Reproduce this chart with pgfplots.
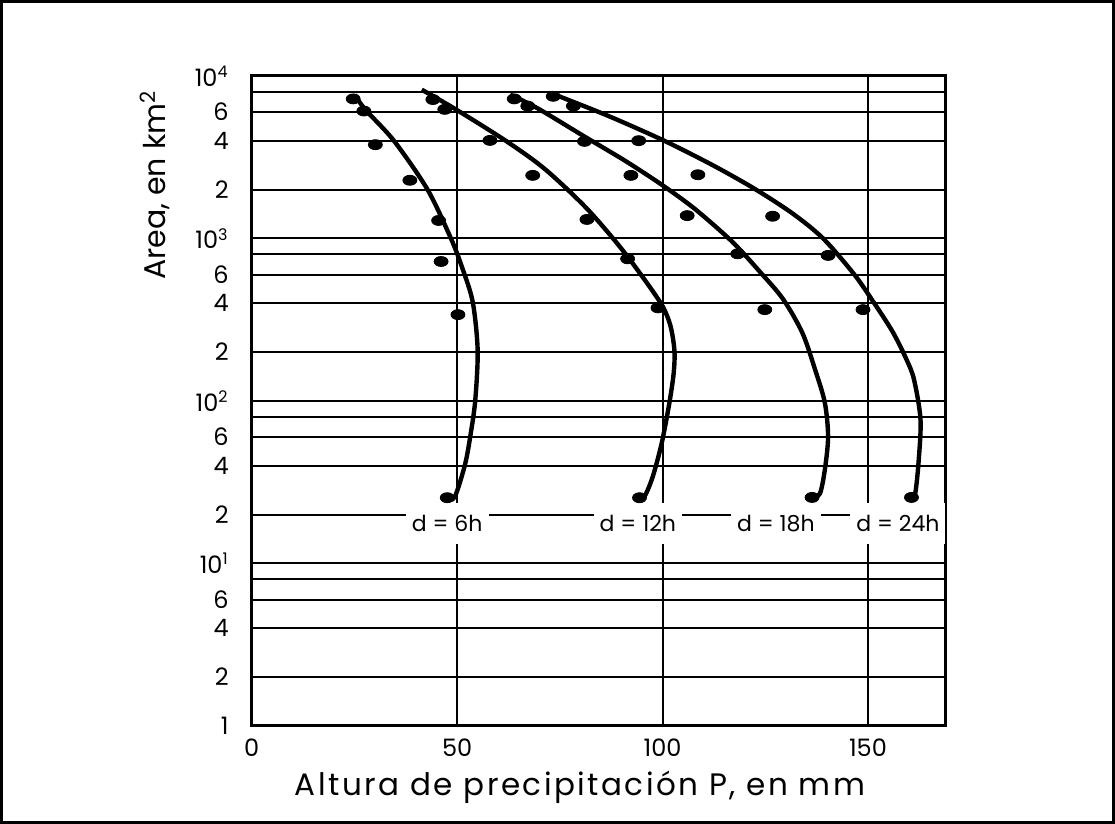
\documentclass[border=0pt]{standalone}
\usepackage{fontspec}
\setmainfont{Poppins}
\usepackage{pgfplots}
\pgfplotsset{compat=1.18}
\begin{document}
\begin{tikzpicture}[x=1pt,y=1pt]
\draw[line width=1.5pt] (0.75,0.75) rectangle (556.75,411.25);
\begin{axis}[
  at={(125.85pt,49pt)}, anchor=south west,
  scale only axis, width=347.15pt, height=325pt,
  xmin=0, xmax=169, ymode=log, ymin=1, ymax=10000,
  axis line style={line width=1.5pt},
  xtick={0,50,100,150},
  xticklabels={0,50,100,150},
  ytick={1,2,4,6,8,10,20,40,60,80,100,200,400,600,800,1000,2000,4000,6000,8000,10000},
  yticklabels={1,2,4,6,,10\textsuperscript{1},2,4,6,,10\textsuperscript{2},2,4,6,,10\textsuperscript{3},2,4,6,,10\textsuperscript{4}},
  major tick length=0pt, minor tick length=0pt,
  xmajorgrids, ymajorgrids,
  grid style={line width=1pt, black},
  ticklabel style={font=\fontsize{12}{12}\selectfont},
  yticklabel style={anchor=east, xshift=-8pt},
  xticklabel style={yshift=-3pt},
  xlabel={Altura de precipitación P, en mm},
  ylabel={Area, en km\textsuperscript{2}},
  label style={font=\fontsize{15}{15}\selectfont},
  xlabel style={at={(axis description cs:0.473,-0.094)}, anchor=center, font=\fontsize{15.5}{15.5}\selectfont\addfontfeature{LetterSpace=8}},
  ylabel style={at={(axis description cs:-0.139,0.832)}, anchor=center, rotate=0},
  clip=false,
]
% curves
\addplot[smooth, line width=2.2pt] coordinates {
(25.1,7670) (27.6,6234) (34.6,4000) (42.8,2000) (48.5,1000) (51.2,665) (53.8,407) (55.0,205) (54.4,100) (53.2,60.5) (51.9,40.4) (49.4,25.6) (47.6,25.3)};
\addplot[smooth, line width=2.2pt] coordinates {
(41.4,8233) (49.4,6295) (61.8,4000) (71.3,2683) (81.2,1564) (89.0,930) (94.4,616) (99.75,393) (101.9,292) (102.9,204) (102.7,147) (101.6,95.1) (99.8,55) (97.6,34.1) (95.6,25.8) (94.4,25.4)};
\addplot[smooth, line width=2.2pt] coordinates {
(62.9,7678) (69.6,6324) (80.7,4285) (91.1,2985) (100.2,2109) (108.0,1511) (117.0,953) (123.8,620) (129.3,425) (134.0,264) (137.1,157) (139.5,97.9) (140.3,60.3) (139.5,37.6) (138.3,26.9) (136.4,25.5)};
\addplot[smooth, line width=2.2pt] coordinates {
(73.8,7678) (86.9,5665) (100.2,4018) (112.0,2844) (122.2,2037) (131.6,1429) (139.1,1000) (146.6,604) (151.3,408) (156.0,267) (159.3,182) (161.2,136) (162.8,76.8) (162.3,41.4) (161.5,26.9) (160.6,25.5)};
% points
\addplot[only marks, mark=*, mark size=2.5pt, mark options={xscale=1.4, fill=black}] coordinates {
(24.7,7230) (27.3,6090) (30.1,3780) (38.5,2282) (45.5,1291) (46.1,722) (50.2,340)
(44.1,7165) (47.0,6234) (58.0,4015) (68.4,2446) (81.6,1310) (91.5,750) (98.9,374)
(63.9,7230) (67.2,6530) (81.0,3960) (92.3,2446) (106.0,1383) (118.3,805) (124.9,365)
(73.4,7500) (78.3,6530) (94.2,4000) (108.6,2468) (126.8,1371) (140.3,787) (148.8,365)
(47.6,25.4) (94.4,25.4) (136.4,25.5) (160.6,25.5)};
% labels
\node[fill=white, minimum height=20.5pt, inner xsep=3pt, font=\fontsize{11}{11}\selectfont] at (axis cs:47.6,17.6) {d = 6h};
\node[fill=white, minimum height=20.5pt, inner xsep=3pt, font=\fontsize{11}{11}\selectfont] at (axis cs:94.0,17.6) {d = 12h};
\node[fill=white, minimum height=20.5pt, inner xsep=3pt, font=\fontsize{11}{11}\selectfont] at (axis cs:127.6,17.6) {d = 18h};
\node[fill=white, minimum height=20.5pt, inner xsep=3pt, font=\fontsize{11}{11}\selectfont] at (axis cs:157.3,17.6) {d = 24h};
\end{axis}
\end{tikzpicture}
\end{document}
